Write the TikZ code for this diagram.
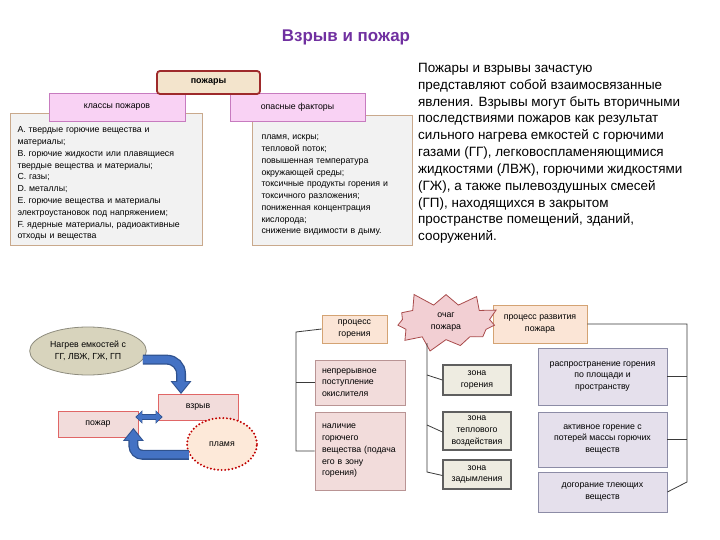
\documentclass[tikz,border=0pt]{standalone}
\usepackage{fontspec}
\setmainfont{Liberation Sans}
\usetikzlibrary{arrows.meta,shapes.geometric,shapes.symbols,calc}

\definecolor{titlepurple}{HTML}{7030A0}
\definecolor{mainred}{HTML}{9E2A2B}
\definecolor{maintan}{HTML}{F3E4CC}
\definecolor{headpink}{HTML}{F9D2F4}
\definecolor{headedge}{HTML}{C77BBF}
\definecolor{listgrey}{HTML}{F2F2F2}
\definecolor{listedge}{HTML}{C9A98C}
\definecolor{nagrevfill}{HTML}{D8D4BD}
\definecolor{nagrevedge}{HTML}{8E8C7E}
\definecolor{blastpink}{HTML}{F2DCDB}
\definecolor{blastedge}{HTML}{E06666}
\definecolor{flamefill}{HTML}{FDE9D9}
\definecolor{flamedot}{HTML}{C00000}
\definecolor{arrowblue}{HTML}{4472C4}
\definecolor{arrowedge}{HTML}{2F528F}
\definecolor{procfill}{HTML}{FBE5D6}
\definecolor{procedge}{HTML}{D4A373}
\definecolor{starfill}{HTML}{F2CFD3}
\definecolor{staredge}{HTML}{A94B4B}
\definecolor{condfill}{HTML}{F2DCDB}
\definecolor{condedge}{HTML}{B99494}
\definecolor{zonefill}{HTML}{EEECE1}
\definecolor{zoneedge}{HTML}{5F5F5F}
\definecolor{stagefill}{HTML}{E5E0EC}
\definecolor{stageedge}{HTML}{8C8CA6}
\definecolor{bracket}{HTML}{3A3A3A}

\newcommand\boxfont{\fontsize{8.8}{11.8}\selectfont}
\newcommand\introfont{\fontsize{13.5}{16.9}\selectfont}
\newcommand\topgap{\rule{0pt}{14.5bp}}

\begin{document}
\begin{tikzpicture}[x=1bp, y=-1bp,
    mainbox/.style={draw=mainred, line width=1.8bp, rounded corners=3bp, fill=maintan,
        minimum width=103bp, minimum height=23bp, font=\fontsize{9}{10}\selectfont\bfseries},
    headbox/.style={draw=headedge, line width=0.8bp, fill=headpink, minimum height=28bp, font=\boxfont},
    listbox/.style={draw=listedge, line width=1bp, fill=listgrey, anchor=north west,
        align=left, inner ysep=0pt, font=\boxfont},
    blastbox/.style={draw=blastedge, line width=0.8bp, fill=blastpink,
        minimum width=80bp, minimum height=26bp, font=\boxfont},
    procbox/.style={draw=procedge, line width=0.8bp, fill=procfill, align=center, font=\boxfont},
    condbox/.style={draw=condedge, line width=0.8bp, fill=condfill, minimum width=90bp,
        text width=76bp, inner xsep=7bp, align=left, font=\boxfont},
    zonebox/.style={draw=zoneedge, line width=1.1bp, fill=zonefill, minimum width=68bp,
        align=center, font=\boxfont},
    stagebox/.style={draw=stageedge, line width=0.8bp, fill=stagefill, minimum width=129bp,
        align=center, font=\boxfont},
    bigarrow/.style={line width=10bp, draw=arrowedge, -{Triangle[length=13bp,width=20bp]}},
    bigarrowin/.style={line width=7.4bp, draw=arrowblue, shorten >=1.8bp,
        -{Triangle[length=10.5bp,width=16.5bp]}},
    dblarrow/.style={line width=6bp, draw=arrowedge, {Triangle[length=7bp,width=13bp]}-{Triangle[length=7bp,width=13bp]}},
    dblarrowin/.style={line width=4bp, draw=arrowblue, shorten >=1.3bp, shorten <=1.3bp,
        {Triangle[length=5.2bp,width=10bp]}-{Triangle[length=5.2bp,width=10bp]}},
    link/.style={draw=bracket, line width=0.8bp}
]
    \useasboundingbox (0,0) rectangle (720,540);

    % Title
    \node[font=\fontsize{17}{20}\selectfont\bfseries, text=titlepurple] (title) at (346,37) {Взрыв и пожар};

    % Classes of fires and hazards
    \node[listbox, text width=178bp, inner xsep=7bp, minimum height=132bp] (classes) at (10,113)
        {\topgap А. твердые горючие вещества и\\
         материалы;\\
         В. горючие жидкости или плавящиеся\\
         твердые вещества и материалы;\\
         С. газы;\\
         D. металлы;\\
         Е. горючие вещества и материалы\\
         электроустановок под напряжением;\\
         F. ядерные материалы, радиоактивные\\
         отходы и вещества};
    \node[listbox, text width=142bp, inner xsep=9bp, minimum height=130bp] (hazards) at (252,115)
        {\topgap пламя, искры;\\
         тепловой поток;\\
         повышенная температура\\
         окружающей среды;\\
         токсичные продукты горения и\\
         токсичного разложения;\\
         пониженная концентрация\\
         кислорода;\\
         снижение видимости в дыму.};
    \node[headbox, minimum width=136bp] (classhead) at (117,107) {классы пожаров};
    \node[headbox, minimum width=135bp] (hazardhead) at (297.5,107) {опасные факторы};
    \node[mainbox] (fires) at (208.5,82.5) {пожары};

    % Intro text
    \node[anchor=north west, align=left, inner sep=0pt, font=\introfont] (intro) at (418,63)
        {Пожары и взрывы зачастую\\
         представляют собой взаимосвязанные\\
         явления. Взрывы могут быть вторичными\\
         последствиями пожаров как результат\\
         сильного нагрева емкостей с горючими\\
         газами (ГГ), легковоспламеняющимися\\
         жидкостями (ЛВЖ), горючими жидкостями\\
         (ГЖ), а также пылевоздушных смесей\\
         (ГП), находящихся в закрытом\\
         пространстве помещений, зданий,\\
         сооружений.};

    % Heating -> explosion <-> fire
    \node[ellipse, draw=nagrevedge, line width=0.8bp, fill=nagrevfill, minimum width=112bp,
        minimum height=48bp, align=center, font=\boxfont] (heating) at (88,351)
        {Нагрев емкостей с\\ГГ, ЛВЖ, ГЖ, ГП};
    \node[blastbox] (blast) at (198,407.5) {взрыв};
    \node[blastbox] (fire) at (98,424.5) {пожар};
    \node[ellipse, draw=flamedot, line width=2.2bp, dash pattern=on 0pt off 3.6bp, line cap=round,
        fill=flamefill, minimum width=70bp, minimum height=52bp, font=\boxfont] (flame) at (222,444) {пламя};

    \draw[bigarrow, rounded corners=14bp] (heating.-9) -| ([xshift=-17bp]blast.north);
    \draw[bigarrowin, rounded corners=14bp] (heating.-9) -| ([xshift=-17bp]blast.north);
    \draw[bigarrow, rounded corners=9bp] (flame.198) -| ([xshift=-5bp,yshift=10bp]fire.south east);
    \draw[bigarrowin, rounded corners=9bp] (flame.198) -| ([xshift=-5bp,yshift=10bp]fire.south east);
    \coordinate (dbl) at ($(fire.east)+(-3,-7.5)$);
    \draw[dblarrow] (dbl) -- ($(dbl -| blast.west)+(5,0)$);
    \draw[dblarrowin] (dbl) -- ($(dbl -| blast.west)+(5,0)$);

    % Burning process and fire development
    \node[procbox, minimum width=65bp, minimum height=28bp] (burn) at (354.5,329) {процесс\\горения};
    \node[procbox, minimum width=94bp, minimum height=38bp] (spread) at (540,324) {процесс развития\\пожара};
    \node[starburst, starburst points=11, starburst point height=16bp, random starburst=5,
        draw=staredge, line width=0.8bp, fill=starfill, minimum width=120bp, minimum height=58bp,
        align=center, font=\boxfont] (seat) at (446,322) {очаг\\пожара};

    \node[condbox, minimum height=45bp] (oxid) at (360,382.5) {непрерывное\\поступление\\окислителя};
    \node[condbox, minimum height=78bp] (fuel) at (360,451) {наличие\\горючего\\вещества (подача\\его в зону\\горения)};

    \node[zonebox, minimum height=30bp] (zburn) at (477,380) {зона\\горения};
    \node[zonebox, minimum height=38bp] (zheat) at (477,431) {зона\\теплового\\воздействия};
    \node[zonebox, minimum height=29bp] (zsmoke) at (477,474.5) {зона\\задымления};

    \node[stagebox, minimum height=57bp] (area) at (602.5,376.5) {распространение горения\\по площади и\\пространству};
    \node[stagebox, minimum height=55bp] (active) at (602.5,439.5) {активное горение с\\потерей массы горючих\\веществ};
    \node[stagebox, minimum height=40bp] (smoulder) at (602.5,492) {догорание тлеющих\\веществ};

    % Brackets
    \coordinate (lb) at (296,332);
    \draw[link] (burn.west) -- (lb) |- (fuel.west);
    \draw[link] (lb |- oxid.west) -- (oxid.west);

    \coordinate (mb) at (427,343);
    \draw[link] (mb) -- (427,472) -- ([yshift=-1bp]zsmoke.west);
    \draw[link] (427,375) -- (zburn.west);
    \draw[link] (427,425) -- ([yshift=-1bp]zheat.west);

    \coordinate (rb) at (687,324);
    \draw[link] (spread.east) -- (rb) -- (687,482) -- (smoulder.east);
    \draw[link] (rb |- area.east) -- (area.east);
    \draw[link] (rb |- active.east) -- (active.east);
\end{tikzpicture}
\end{document}
